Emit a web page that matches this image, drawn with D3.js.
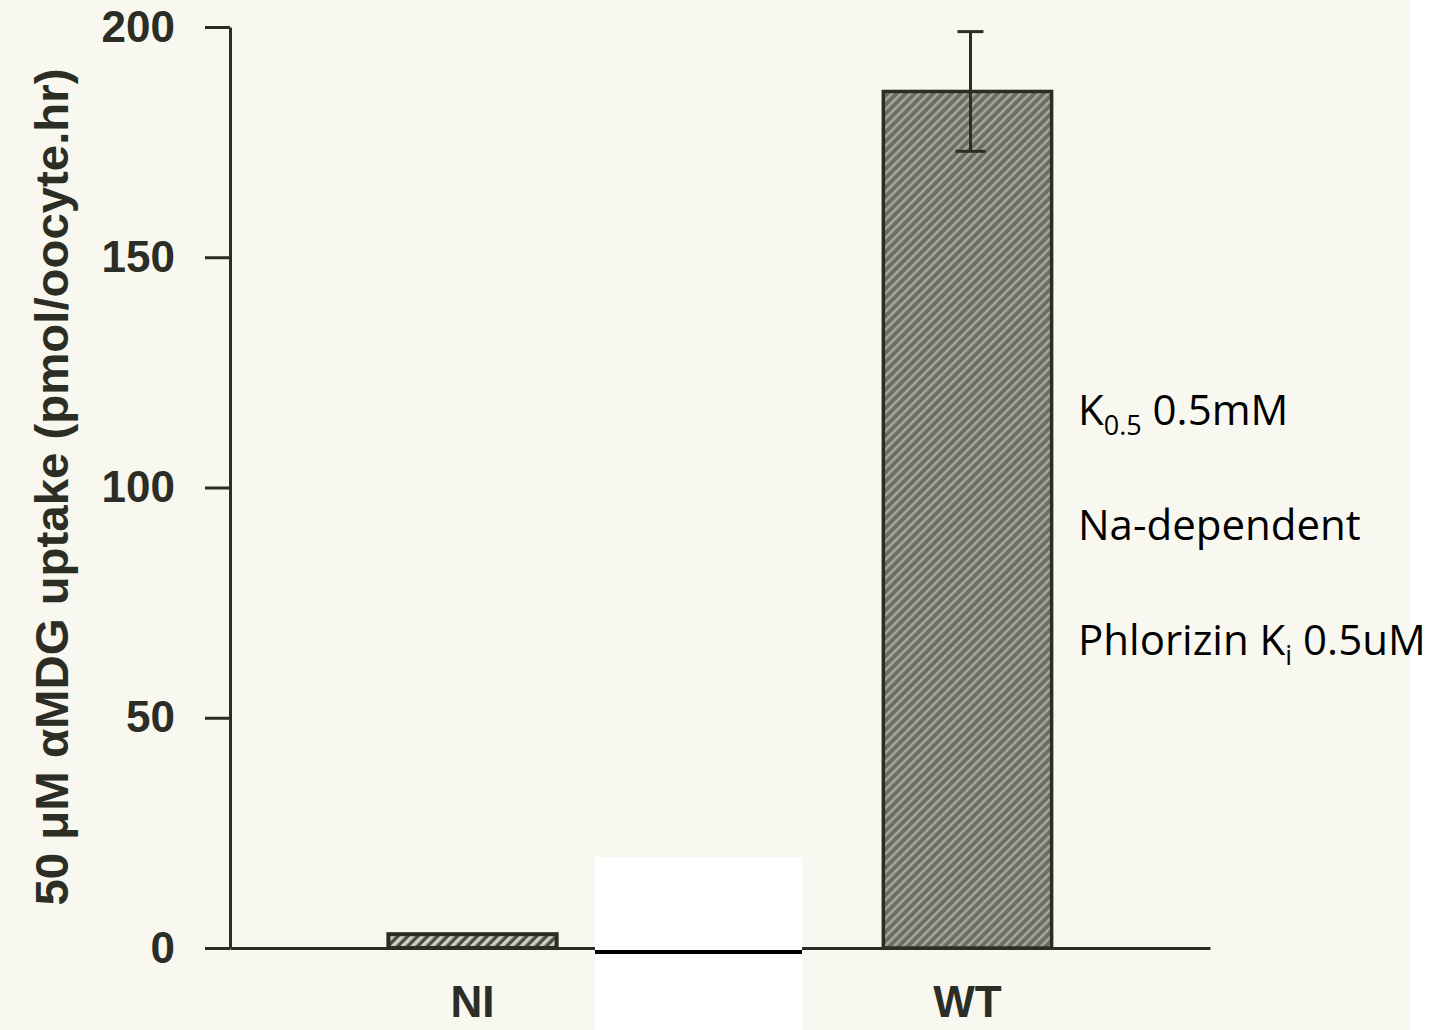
<!DOCTYPE html>
<html>
<head>
<meta charset="utf-8">
<script src="https://cdn.jsdelivr.net/npm/d3@7"></script>
<style>
  html, body { margin: 0; padding: 0; background: #f8f8f0; }
  svg { display: block; }
</style>
</head>
<body>
<svg id="chart" width="1437" height="1030"></svg>
<script>
// ---- data ----
const categories = ["NI", "WT"];
const uptake = [3, 186];
const errorHigh = [null, 199];
const errorLow = [null, 173];
const yTicks = [0, 50, 100, 150, 200];
const yLabel = "50 \u03bcM \u03b1MDG uptake (pmol/oocyte.hr)";
const notes = [
  [{t: "K"}, {t: "0.5", sub: true}, {t: " 0.5mM"}],
  [{t: "Na-dependent"}],
  [{t: "Phlorizin K"}, {t: "i", sub: true}, {t: " 0.5uM"}]
];

// ---- layout ----
const W = 1437, H = 1030;
const ink = "#2c2d24";
const svg = d3.select("#chart");

svg.append("rect").attr("x", 0).attr("y", 0).attr("width", W).attr("height", H).attr("fill", "#f8f8f0");
svg.append("rect").attr("x", 1410).attr("y", 0).attr("width", W - 1410).attr("height", H).attr("fill", "#ffffff");

const defs = svg.append("defs");
const pWT = defs.append("pattern").attr("id", "hatchWT").attr("patternUnits", "userSpaceOnUse")
  .attr("width", 6.5).attr("height", 6.5).attr("patternTransform", "rotate(45)");
pWT.append("rect").attr("width", 6.5).attr("height", 6.5).attr("fill", "#6b6f63");
pWT.append("rect").attr("x", 0).attr("width", 2.6).attr("height", 6.5).attr("fill", "#a3a699");

const pNI = defs.append("pattern").attr("id", "hatchNI").attr("patternUnits", "userSpaceOnUse")
  .attr("width", 7).attr("height", 7).attr("patternTransform", "rotate(45)");
pNI.append("rect").attr("width", 7).attr("height", 7).attr("fill", "#4a4b41");
pNI.append("rect").attr("x", 0).attr("width", 3.6).attr("height", 7).attr("fill", "#cfd0c5");

const x = d3.scaleBand().domain(categories).range([230, 1210]).paddingInner(0.66).paddingOuter(0.32);
const y = d3.scaleLinear().domain([0, 200]).range([948, 27]);

// bars
svg.selectAll("rect.bar").data(categories).enter().append("rect")
  .attr("class", "bar")
  .attr("x", d => x(d))
  .attr("width", x.bandwidth())
  .attr("y", (d, i) => y(uptake[i]))
  .attr("height", (d, i) => y(0) - y(uptake[i]))
  .attr("fill", (d, i) => i === 0 ? "url(#hatchNI)" : "url(#hatchWT)")
  .attr("stroke", ink)
  .attr("stroke-width", (d, i) => i === 0 ? 4 : 3.5);

// error bars
categories.forEach((c, i) => {
  if (errorHigh[i] == null) return;
  const cx = x(c) + x.bandwidth() / 2 + 3;
  const g = svg.append("g").attr("stroke", ink).attr("stroke-width", 3);
  g.append("line").attr("x1", cx).attr("x2", cx).attr("y1", y(errorHigh[i])).attr("y2", y(errorLow[i]));
  g.append("line").attr("x1", cx - 13).attr("x2", cx + 13).attr("y1", y(errorHigh[i])).attr("y2", y(errorHigh[i]));
  g.append("line").attr("x1", cx - 15).attr("x2", cx + 15).attr("y1", y(errorLow[i])).attr("y2", y(errorLow[i]));
});

// y axis
const yAxis = svg.append("g").attr("transform", "translate(230,0)")
  .call(d3.axisLeft(y).tickValues(yTicks).tickSize(25).tickSizeOuter(0).tickPadding(30));
yAxis.select(".domain").attr("stroke", ink).attr("stroke-width", 3);
yAxis.selectAll(".tick line").attr("stroke", ink).attr("stroke-width", 3);
yAxis.selectAll(".tick text").attr("fill", ink)
  .style("font-family", "'Liberation Sans', Arial, sans-serif").style("font-size", "44px").style("font-weight", "bold");

// x axis
const xAxis = svg.append("g").attr("transform", "translate(0,948)")
  .call(d3.axisBottom(x).tickSize(0).tickSizeOuter(0).tickPadding(38));
xAxis.select(".domain").attr("stroke", ink).attr("stroke-width", 3);
xAxis.selectAll(".tick text").attr("fill", ink)
  .style("font-family", "'Liberation Sans', Arial, sans-serif").style("font-size", "44px").style("font-weight", "bold");

// y label
svg.append("text")
  .attr("transform", "translate(68,487) rotate(-90)")
  .attr("text-anchor", "middle")
  .attr("textLength", 837)
  .attr("lengthAdjust", "spacingAndGlyphs")
  .attr("fill", ink)
  .style("font-family", "'Liberation Sans', Arial, sans-serif").style("font-size", "46px").style("font-weight", "bold")
  .text(yLabel);

// white patch and black line
svg.append("rect").attr("x", 595).attr("y", 857).attr("width", 207).attr("height", H - 857).attr("fill", "#ffffff");
svg.append("line").attr("x1", 595).attr("x2", 802).attr("y1", 952).attr("y2", 952).attr("stroke", "#000").attr("stroke-width", 4);

// annotations
const noteY = [425, 540, 655];
notes.forEach((parts, i) => {
  const t = svg.append("text").attr("x", 1078).attr("y", noteY[i]).attr("fill", "#000")
    .style("font-family", "'Open Sans', sans-serif").style("font-size", "42px");
  parts.forEach(p => {
    const s = t.append("tspan").text(p.t);
    if (p.sub) s.attr("dy", 10).style("font-size", "27px");
    else if (t.selectAll("tspan").size() > 1) s.attr("dy", -10);
  });
});
</script>
</body>
</html>
